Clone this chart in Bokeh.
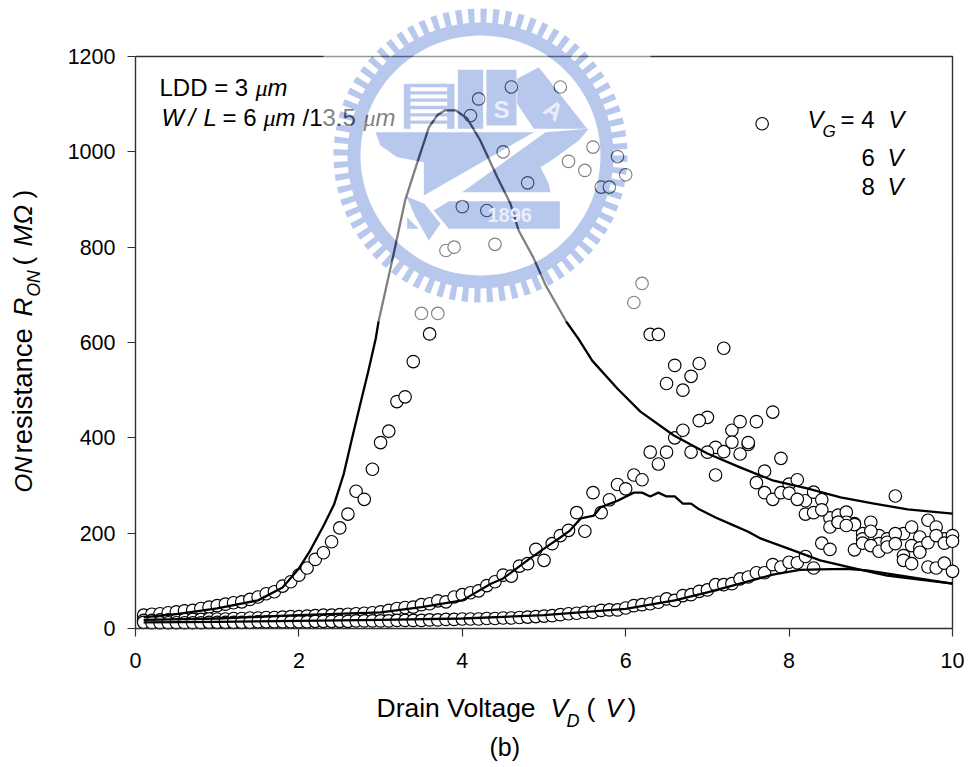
import math
from bokeh.plotting import figure
from bokeh.models import Label, FixedTicker
from bokeh.embed import file_html
from bokeh.resources import INLINE

nan = float("nan")
vd = [i / 10 for i in range(1, 101)]
vg4 = [28,30,31,33,35,37,38,42,45,48,51,54,56,61,66,73,77,89,98,112,127,145,159,182,211,240,288,271,334,390,
       414,476,486,560,661,618,661,793,800,885,1076,1111,877,806,1000,1136,nan,935,nan,nan,
       nan,1136,980,nan,961,1010,926,926,990,952,684,724,617,617,514,552,500,529,556,443,
       380,588,416,434,386,434,330,454,357,303,312,268,286,270,232,238,244,220,199,223,
       195,188,278,199,213,192,227,213,188,195]
vg6 = [17,17,18,18,18,19,19,19,20,20,20,21,21,22,22,23,23,24,25,25,26,27,28,28,29,30,31,32,33,35,
       38,42,44,45,50,52,58,56,66,71,75,79,90,98,112,110,131,136,166,143,
       178,195,206,243,204,285,243,270,302,293,322,312,370,345,370,400,416,370,436,370,
       322,371,391,366,390,306,285,271,285,284,271,240,243,249,213,223,223,218,188,204,
       178,181,199,153,174,169,180,195,179,183]
vg8 = [13,12,12,12,12,12,12,12,13,13,13,13,13,13,14,14,14,14,14,14,14,15,15,15,15,15,16,16,16,16,
       16,17,17,17,17,18,18,19,19,20,20,20,21,21,22,22,23,24,25,26,
       27,29,31,32,34,34,38,39,39,43,48,50,52,55,62,59,69,71,78,81,
       92,92,94,104,108,117,117,134,129,139,138,151,127,179,166,223,216,165,179,174,
       162,171,178,143,136,160,129,127,137,120]

line4_x = [0.1,0.5,1.0,1.5,1.8,2.0,2.14,2.3,2.43,2.55,2.645,2.75,2.85,2.94,2.975,3.16,3.30,3.45,3.59,3.70,3.79,3.92,4.06,4.22,4.43,4.59,4.69,4.87,5.02,5.28,5.42,5.59,5.9,6.18,6.59,7.0,7.4,7.81,8.22,8.63,9.04,9.45,10.0]
line4_y = [24,30,42,59,86,126,164,215,260,325,395,470,540,608,644,786,898,978,1051,1078,1087,1087,1070,1024,946,891,835,778,720,642,608,562,503,455,405,367,338,310,294,275,262,250,241]
line6_x = [0.1,1.0,2.0,3.0,3.5,4.0,4.35,4.5,4.83,5.08,5.2,5.32,5.45,5.61,5.69,5.9,6.1,6.2,6.3,6.4,6.5,6.6,6.7,6.8,6.9,7.1,7.3,7.5,7.65,8.0,8.38,8.8,9.2,10.0]
line6_y = [18,21,28,34,45,59,94,105,147,177,191,206,231,237,254,268,285,285,277,285,277,277,262,262,250,233,218,203,189,167,143,126,111,94]
line8_x = [0.1,1.0,2.0,3.0,4.0,5.0,6.0,6.6,7.0,7.4,7.8,8.13,8.38,8.7,8.95,10.0]
line8_y = [13,14,16,18,21,28,41,59,76,94,113,123,124,125,122,94]

x_ticks = [0, 2, 4, 6, 8, 10]
y_ticks = [0, 200, 400, 600, 800, 1000, 1200]

X0, Y0, SX, SY = 135.0, 628.0, 81.7, 572.0 / 1200
def dx(px): return (px - X0) / SX
def dy(py): return (Y0 - py) / SY

W, H = 968, 766
p = figure(width=W, height=H, output_backend="svg", toolbar_location=None,
           x_range=(dx(0), dx(W)), y_range=(dy(H), dy(0)),
           min_border_left=0, min_border_right=0, min_border_top=0, min_border_bottom=0,
           outline_line_color=None, background_fill_color="white", border_fill_color="white")
p.grid.visible = False

AX = "#303030"
for ax, ticks, bounds, standoff in ((p.xaxis[0], x_ticks, (0, 10), 16), (p.yaxis[0], y_ticks, (0, 1200), 12)):
    ax.ticker = FixedTicker(ticks=ticks)
    ax.bounds = bounds
    ax.fixed_location = 0
    ax.axis_line_color = AX
    ax.axis_line_width = 1.4
    ax.major_tick_line_color = AX
    ax.major_tick_line_width = 1.2
    ax.major_tick_out = 8
    ax.major_tick_in = 0
    ax.minor_tick_line_color = None
    ax.major_label_text_font = "Liberation Sans"
    ax.major_label_text_font_size = "21.5px"
    ax.major_label_text_color = "black"
    ax.major_label_standoff = standoff

p.line([0, 10, 10], [1200, 1200, 0], line_color=AX, line_width=1.4)

for series in (vg4, vg6, vg8):
    p.scatter(vd, series, size=12.5, marker="circle", fill_color="white", line_color="black", line_width=1.15)
for lx, ly in ((line4_x, line4_y), (line6_x, line6_y), (line8_x, line8_y)):
    p.line(lx, ly, line_color="black", line_width=2.3, line_join="round")

K = 0.37
def put(px, py, text, size, style="normal", angle=0, font="Liberation Sans", color="black", align="left", alpha=1.0, level="annotation"):
    p.add_layout(Label(x=px - K * size * math.sin(angle), y=py - K * size * math.cos(angle),
                       x_units="canvas", y_units="canvas", text=text, text_font=font,
                       text_font_size=f"{size}px", text_font_style=style, text_color=color,
                       text_alpha=alpha, angle=angle, text_align=align, text_baseline="alphabetic", level=level))

S = 24
put(159, 96, "LDD = 3", S)
put(255, 96, "\u03bc", S, "italic", font="Liberation Serif")
put(267, 96, "m", S, "italic")
put(161, 126, "W", S, "italic")
put(188, 126, "/", S, "italic")
put(203, 126, "L", S, "italic")
put(222, 126, "= 6", S)
put(263, 126, "\u03bc", S, "italic", font="Liberation Serif")
put(275, 126, "m", S, "italic")
put(302, 126, "/13.5", S)
put(363, 126, "\u03bc", S, "italic", font="Liberation Serif")
put(375, 126, "m", S, "italic")

p.scatter([7.67], [1059], size=12.5, marker="circle", fill_color="white", line_color="black", line_width=1.15)
put(807, 128, "V", S, "italic")
put(822, 137, "G", 17, "italic")
put(840, 128, "= 4", S)
put(888, 128, "V", S, "italic")
put(861, 166, "6", S)
put(887, 166, "V", S, "italic")
put(861, 195, "8", S)
put(887, 195, "V", S, "italic")

L = 26.5
put(376, 717, "Drain Voltage", L)
put(550, 717, "V", L, "italic")
put(566, 727, "D", 18, "italic")
put(586, 717, "(", L)
put(605, 717, "V", L, "italic")
put(627, 717, ")", L)
put(489, 756, "(b)", 25)

R = math.pi / 2
put(32, 492, "ON", 24, "italic", angle=R)
put(32, 453, "resistance", 27.5, angle=R)
put(32, 316, "R", 26, "italic", angle=R)
put(40, 296, "ON", 17.5, "italic", angle=R)
put(32, 265, "(", 26, angle=R)
put(32, 246, "M\u03a9", 26, "italic", angle=R)
put(32, 198, ")", 26, angle=R)

# translucent logo overlay: white wash over a rectangle, blue logo shapes cut out of it
cx, cy = 480.0, 155.0
n_teeth = 72
gear = []
for i in range(n_teeth):
    for a0, r in ((i, 147), (i + 0.5, 147), (i + 0.5, 133), (i + 1, 133)):
        t = 2 * math.pi * a0 / n_teeth
        gear.append((cx + r * math.cos(t), cy + r * math.sin(t)))
inner = [(cx + 120 * math.cos(2 * math.pi * i / 120), cy + 120 * math.sin(2 * math.pi * i / 120)) for i in range(120)]

def z(*pts):
    return [(300 + a / 3, 60 + b / 3) for a, b in pts]
def box(a0, b0, a1, b1):
    return z((a0, b0), (a1, b0), (a1, b1), (a0, b1))

shapes = [
    box(472, 28, 548, 205), box(558, 28, 648, 195),
    z((650, 55), (715, 20), (860, 205), (730, 205), (700, 205), (650, 130)),
    box(310, 70, 330, 205), box(440, 70, 462, 205),
    z((225, 215), (700, 215), (370, 405), (370, 305), (290, 290), (240, 255)),
    z((735, 215), (865, 205), (835, 240), (760, 295), (720, 320), (745, 370), (750, 395), (485, 395)),
    z((318, 408), (372, 430), (420, 490), (385, 540), (345, 470)),
    z((320, 470), (355, 505), (320, 505)),
    z((445, 422), (778, 422), (778, 505), (445, 505), (400, 450)),
] + [box(330, b, 440, b + 10) for b in (70, 92, 114, 136, 158, 180)]

def rx(r): return [dx(q[0]) for q in r]
def ry(r): return [dy(q[1]) for q in r]

rect = [(323, 1), (650, 1), (650, 321), (323, 321)]
white_x = [[[rx(rect), rx(gear)], [rx(inner)] + [rx(s) for s in shapes]]]
white_y = [[[ry(rect), ry(gear)], [ry(inner)] + [ry(s) for s in shapes]]]
blue_x = [[[rx(gear), rx(inner)]]] + [[[rx(s)]] for s in shapes]
blue_y = [[[ry(gear), ry(inner)]]] + [[[ry(s)]] for s in shapes]
p.multi_polygons(white_x, white_y, fill_color="white", fill_alpha=0.5, line_color=None, level="overlay")
p.multi_polygons(blue_x, blue_y, fill_color="#7191d9", fill_alpha=0.5, line_color=None, level="overlay")

put(487, 222, "1896", 20, "bold", color="#e8eefb", level="overlay")
put(493, 118, "S", 24, "bold", color="#e8eefb", level="overlay")
put(541, 112, "A", 24, "bold", angle=-0.6, color="#e8eefb", level="overlay")

open("out.html", "w").write(file_html(p, INLINE))
